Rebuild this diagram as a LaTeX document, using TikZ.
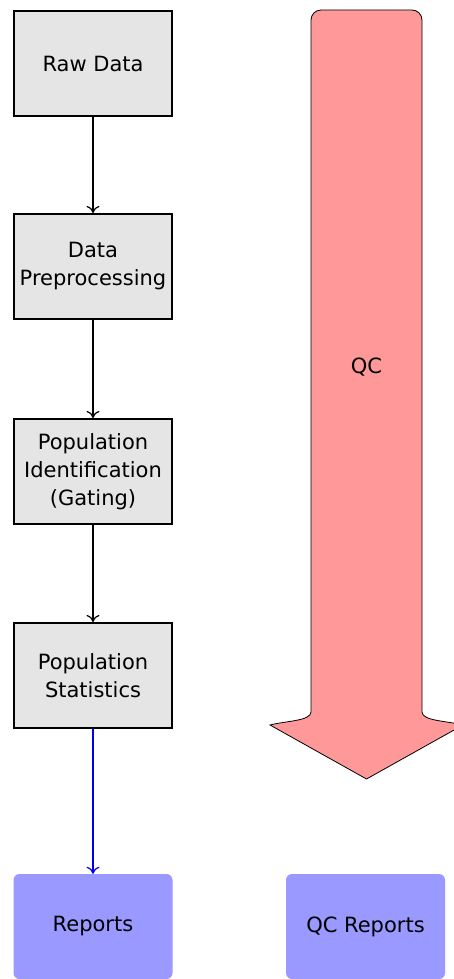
\documentclass[tikz,border=0pt]{standalone}
\usepackage{fontspec}
\setmainfont{DejaVu Sans}
\usetikzlibrary{arrows.meta}
\begin{document}
\begin{tikzpicture}[x=1pt,y=-1pt,
  procbox/.style={draw=black,line width=2pt,fill=black!10,minimum width=158pt,minimum height=105pt,inner sep=0pt,align=center,font=\fontsize{21}{28}\selectfont},
  repbox/.style={fill=blue!40,draw=none,rounded corners=6pt,minimum width=159pt,minimum height=105pt,inner sep=0pt,align=center,font=\fontsize{21}{28}\selectfont},
  flow/.style={draw=black,line width=1.2pt,-{To[length=7pt,width=13pt,line width=1.2pt]}},
  bflow/.style={flow,draw=blue!90!black}]
\useasboundingbox (0,0) rectangle (454,979);
\clip (0,0) rectangle (454,979);
% QC arrow
\draw[fill=red!40,line width=0.8pt]
  (311,712) -- (311,20) arc[start angle=180,end angle=90,radius=10pt]
  -- (412,10) arc[start angle=90,end angle=0,radius=10pt]
  -- (422,712) .. controls (422,721) and (448,721) .. (463,725)
  -- (366.5,779) -- (270,725)
  .. controls (285,721) and (311,721) .. (311,712) -- cycle;
\node[font=\fontsize{21}{28}\selectfont] (qc) at (366.5,367) {QC};
% process boxes
\node[procbox] (raw) at (93,63.5) {Raw Data};
\node[procbox] (pre) at (93,266.5) {Data\\Preprocessing};
\node[procbox] (gate) at (93,471.5) {Population\\Identification\\(Gating)};
\node[procbox] (stat) at (93,675.5) {Population\\Statistics};
\node[repbox] (rep) at (93,926.5) {Reports};
\node[repbox] (qcrep) at (365.5,926.5) {QC Reports};
\draw[flow] (raw) -- (pre);
\draw[flow] (pre) -- (gate);
\draw[flow] (gate) -- (stat);
\draw[bflow] (stat) -- (rep);
\end{tikzpicture}
\end{document}
